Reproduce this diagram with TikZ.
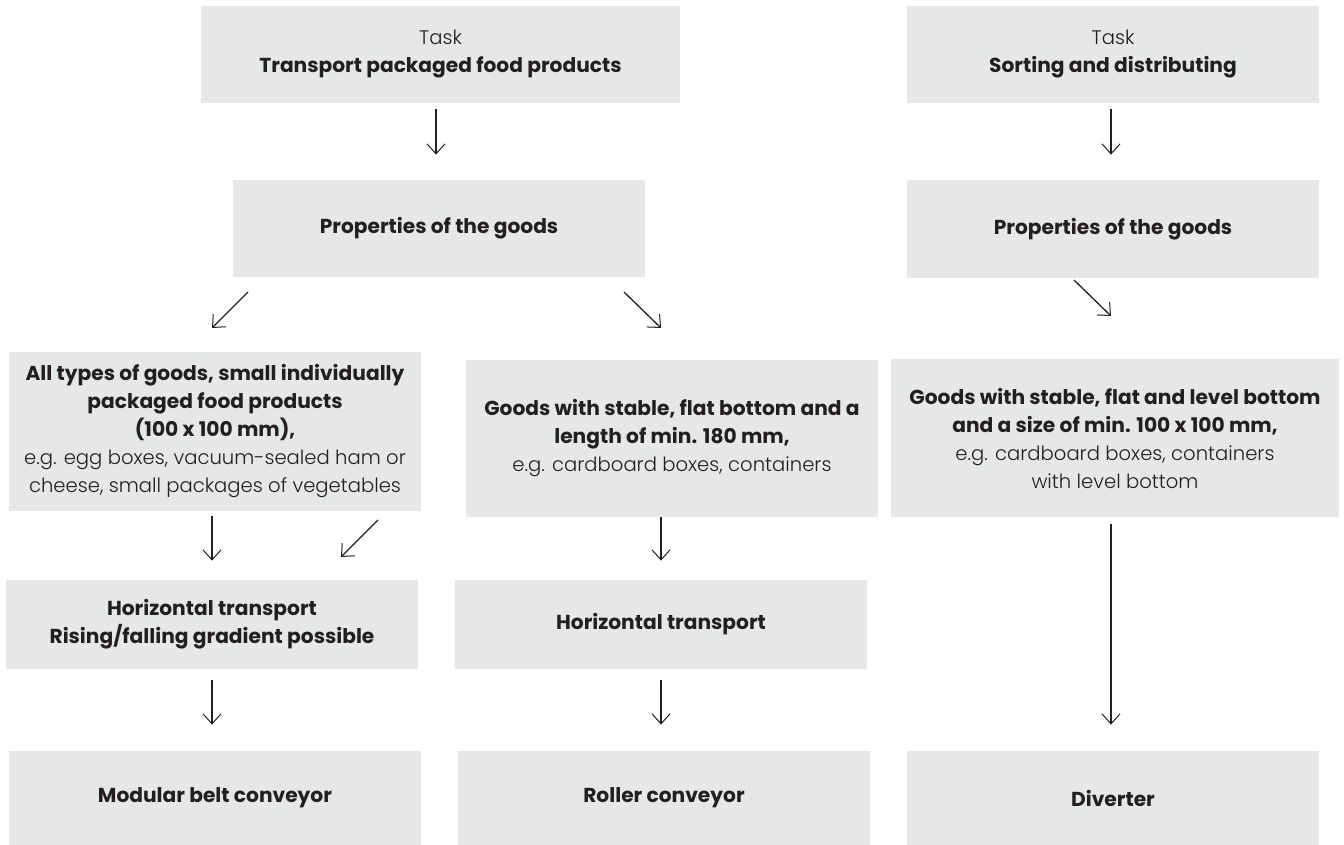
\documentclass[tikz,border=0pt]{standalone}
\usepackage{fontspec}
\setmainfont{Poppins}
\newfontfamily\lightfont{Poppins Light}[Scale=0.97]
\usetikzlibrary{arrows.meta}
\definecolor{boxgray}{HTML}{E6E7E8}
\definecolor{ink}{HTML}{231F20}
\newcommand{\lt}[1]{{\lightfont #1}}
\begin{document}
\begin{tikzpicture}[x=0.5pt,y=-0.5pt,
  box/.style={fill=boxgray, inner sep=0pt, align=center, text=ink,
    font=\fontsize{10.1}{14}\selectfont, minimum width=206pt},
  arr/.style={draw=ink, line width=0.65pt, -{Straight Barb[length=5pt,width=9pt,line width=0.5pt]}}]
\path[fill=white, use as bounding box] (0,0) rectangle (1344,845);
% row 1
\node[box, minimum width=239.5pt, minimum height=48.5pt] (T1) at (440.5,54.5) {\lt{Task}\\\textbf{Transport packaged food products}};
\node[box, minimum height=48.5pt] (T2) at (1113,54.5) {\lt{Task}\\\textbf{Sorting and distributing}};
% row 2
\node[box, minimum height=48.5pt] (P1) at (439,228.5) {\textbf{Properties of the goods}};
\node[box, minimum height=49pt] (P2) at (1113,229) {\textbf{Properties of the goods}};
% row 3
\node[box, minimum height=79.5pt] (G1) at (215,431.5) {\textbf{All types of goods, small individually}\\\textbf{packaged food products}\\\textbf{(100 x 100 mm),}\\\lt{e.g. egg boxes, vacuum-sealed ham or}\\\lt{cheese, small packages of vegetables}};
\node[box, minimum height=78.5pt] (G2) at (672,438.5) {\textbf{Goods with stable, flat bottom and a}\\\textbf{length of min. 180 mm,}\\\lt{e.g. cardboard boxes, containers}};
\node[box, minimum width=224pt, minimum height=79pt] (G3) at (1115,438) {\textbf{Goods with stable, flat and level bottom}\\\textbf{and a size of min. 100 x 100 mm,}\\\lt{e.g. cardboard boxes, containers}\\\lt{with level bottom}};
% row 4
\node[box, minimum height=44.5pt] (H1) at (212,624.5) {\textbf{Horizontal transport}\\\textbf{Rising/falling gradient possible}};
\node[box, minimum height=44.5pt] (H2) at (661,624.5) {\textbf{Horizontal transport}};
% row 5
\node[box, minimum height=47pt] (B1) at (215,798) {\textbf{Modular belt conveyor}};
\node[box, minimum height=47pt] (B2) at (664,798) {\textbf{Roller conveyor}};
\node[box, minimum height=47pt] (B3) at (1113,798) {\textbf{Diverter}};
% vertical connectors
\draw[arr, shorten <=3pt, shorten >=12.5pt] (T1.south -| 436,0) -- (P1.north -| 436,0);
\draw[arr, shorten <=3pt, shorten >=12.5pt] (T2.south -| 1111,0) -- (P2.north -| 1111,0);
\draw[arr, shorten <=2.5pt, shorten >=9.5pt] (G1.south -| 212,0) -- (H1.north -| 212,0);
\draw[arr, shorten <=0pt, shorten >=9.5pt] (G2.south -| 661,0) -- (H2.north -| 661,0);
\draw[arr, shorten <=3.5pt, shorten >=13pt] (G3.south -| 1111,0) -- (B3.north -| 1111,0);
\draw[arr, shorten <=5.5pt, shorten >=13pt] (H1.south -| 212,0) -- (B1.north -| 212,0);
\draw[arr, shorten <=5.5pt, shorten >=13pt] (H2.south -| 661,0) -- (B2.north -| 661,0);
% diagonal connectors
\coordinate (d1a) at (248,292); \coordinate (d1b) at (212,328);
\coordinate (d2a) at (624,292); \coordinate (d2b) at (661,328);
\coordinate (d3a) at (1074,280); \coordinate (d3b) at (1111,316);
\coordinate (d4a) at (378,520); \coordinate (d4b) at (341,557);
\draw[arr] (d1a) -- (d1b);
\draw[arr] (d2a) -- (d2b);
\draw[arr] (d3a) -- (d3b);
\draw[arr] (d4a) -- (d4b);
\end{tikzpicture}
\end{document}
